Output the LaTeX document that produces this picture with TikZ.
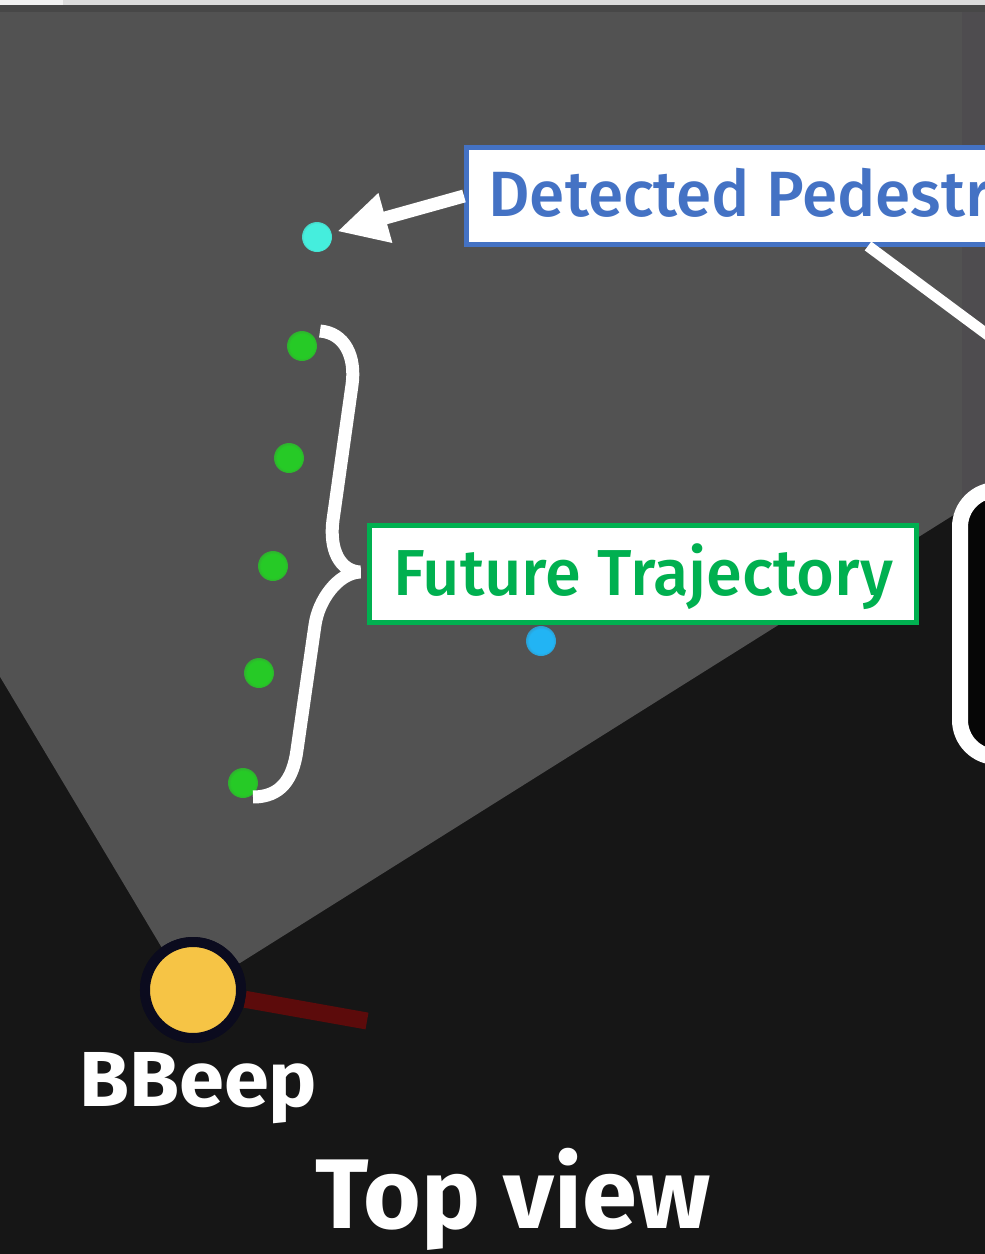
\documentclass[tikz,border=0pt]{standalone}
\usepackage{fontspec}
\setmainfont{Fira Sans}
\newfontfamily\fmed{Fira Sans Medium}
\usetikzlibrary{arrows.meta}
\definecolor{bgdark}{HTML}{161616}
\definecolor{cone}{HTML}{525252}
\definecolor{topband}{HTML}{474747}
\definecolor{topline}{HTML}{DCDCDC}
\definecolor{rstrip}{HTML}{4E4C4F}
\definecolor{dpblue}{HTML}{4472C4}
\definecolor{ftgreen}{HTML}{00B050}
\definecolor{dotg}{HTML}{26CA26}
\definecolor{dotc}{HTML}{45EEDD}
\definecolor{dotb}{HTML}{22B4F4}
\definecolor{robo}{HTML}{F6C445}
\definecolor{ringc}{HTML}{0B0B1E}
\definecolor{headc}{HTML}{5C0B0B}
\definecolor{scrc}{HTML}{060606}
\pgfdeclareradialshading{glowg}{\pgfpoint{0bp}{0bp}}{color(0bp)=(dotg); color(20bp)=(dotg); color(44bp)=(cone); color(50bp)=(cone)}
\pgfdeclareradialshading{glowc}{\pgfpoint{0bp}{0bp}}{color(0bp)=(dotc); color(22bp)=(dotc); color(44bp)=(cone); color(50bp)=(cone)}
\pgfdeclareradialshading{glowb}{\pgfpoint{0bp}{0bp}}{color(0bp)=(dotb); color(20bp)=(dotb); color(44bp)=(cone); color(50bp)=(cone)}
\begin{document}
\begin{tikzpicture}[x=1pt,y=-1pt,
  dotnode/.style={circle, inner sep=0pt, minimum size=30pt, shade, shading=#1},
  labelbox/.style={draw=#1, line width=5pt, fill=white, text=#1, inner sep=0pt, outer sep=2.5pt,
     font=\fmed\fontsize{64}{64}\selectfont},
  whiteline/.style={draw=white, line width=12pt},
  bigtext/.style={text=white, inner sep=0pt, anchor=base west}
]
\useasboundingbox (0,0) rectangle (985,1254);
\clip (0,0) rectangle (985,1254);
% background and field of view
\fill[bgdark] (0,0) rectangle (985,1254);
\fill[cone] (-10,-10) -- (995,-10) -- (995,489) -- (240,963) -- (171,963) -- (-10,660) -- cycle;
\fill[rstrip] (962,12) -- (985,12) -- (985,487) -- (962,501) -- cycle;
\fill[topband] (0,5) rectangle (985,12);
\fill[topline] (0,0) rectangle (985,5);
\fill[white!95!black] (0,0) rectangle (63,5);

% boxes
\node[labelbox=dpblue, anchor=west, minimum height=97pt, text height=44pt, text depth=4pt,
      inner xsep=22pt] (dp) at (464,196) {Detected Pedestrian};
\node[labelbox=ftgreen, anchor=center, minimum width=547pt, minimum height=97pt,
      text height=45pt, text depth=3pt, font=\fmed\fontsize{65}{65}\selectfont] (ft) at (643,574) {Future Trajectory};
\node[draw=white, line width=16pt, fill=scrc, rounded corners=37pt, minimum width=200pt,
      minimum height=267pt, anchor=north west, outer sep=0pt, inner sep=0pt] (scr) at (960,490) {};

% dots
\node[dotnode=glowc, outer sep=6pt] (ped) at (317,237) {};
\node[dotnode=glowb] (ped2) at (541,641) {};
\node[dotnode=glowg] (g1) at (302,346) {};
\node[dotnode=glowg] (g2) at (289,458) {};
\node[dotnode=glowg] (g3) at (273,566) {};
\node[dotnode=glowg] (g4) at (259,673) {};
\node[dotnode=glowg] (g5) at (243,783) {};

% connectors
\coordinate (dpfoot) at (868,246);
\coordinate (offright) at (1000,344);
\draw[whiteline, line width=11pt] (dpfoot) -- (offright);
\draw[whiteline, line width=13pt, -{Triangle[length=50pt,width=48pt]}] (dp.west) -- (ped);

% brace
\draw[white, line width=13pt, line join=bevel]
  (320,331) .. controls (345,333) and (356,357) .. (352,385)
  -- (333,520) .. controls (329,550) and (340,571) .. (360,572)
  .. controls (338,573) and (318.5,600) .. (315,625)
  -- (297,750) .. controls (293,780) and (280,797) .. (253,797);

% robot
\coordinate (headend) at (367,1021);
\node[circle, draw=ringc, line width=10pt, fill=robo, minimum size=96pt, inner sep=0pt] (robot) at (193,990) {};
\draw[headc, line width=17pt] (robot) -- (headend);
\node[circle, draw=ringc, line width=10pt, fill=robo, minimum size=96pt, inner sep=0pt] at (robot) {};

% texts
\node[bigtext, font=\bfseries\fontsize{78}{78}\selectfont] (bbeep) at (79,1106) {\scalebox{1.04}[1]{BBeep}};
\node[bigtext, font=\bfseries\fontsize{99}{99}\selectfont] (topview) at (315,1228) {Top view};
\end{tikzpicture}
\end{document}
